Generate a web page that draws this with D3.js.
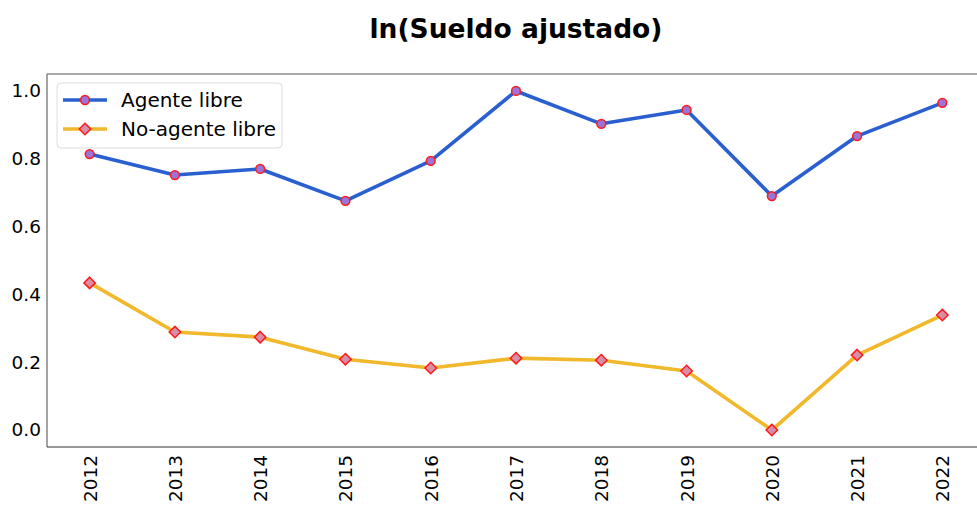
<!DOCTYPE html>
<html>
<head>
<meta charset="utf-8">
<script src="https://cdn.jsdelivr.net/npm/d3@7"></script>
<style>
  html, body { margin: 0; padding: 0; background: #fff; }
  svg { display: block; font-family: "DejaVu Sans", sans-serif; }
</style>
</head>
<body>
<svg id="chart" width="977" height="507"></svg>
<script>
// Years on the x axis
const years = ["2012", "2013", "2014", "2015", "2016", "2017", "2018", "2019", "2020", "2021", "2022"];
// Normalised ln(adjusted salary) per group
const agenteLibre = [0.814, 0.752, 0.770, 0.676, 0.794, 1.000, 0.903, 0.944, 0.690, 0.867, 0.965];
const noAgenteLibre = [0.434, 0.289, 0.274, 0.209, 0.183, 0.212, 0.206, 0.174, 0.000, 0.221, 0.339];
const yTicks = [0.0, 0.2, 0.4, 0.6, 0.8, 1.0];
const seriesNames = ["Agente libre", "No-agente libre"];

const svg = d3.select("#chart");
const margin = { left: 47, right: 985, top: 74, bottom: 447 };

const x = d3.scalePoint()
  .domain(years)
  .range([margin.left, margin.right])
  .padding(0.5);

const y = d3.scaleLinear()
  .domain([-0.05, 1.05])
  .range([margin.bottom, margin.top]);

// Title
svg.append("text")
  .attr("x", (margin.left + margin.right) / 2)
  .attr("y", 38)
  .attr("text-anchor", "middle")
  .attr("font-size", 26.5)
  .attr("font-weight", "bold")
  .attr("fill", "#000")
  .text("ln(Sueldo ajustado)");

// Axes (no tick marks, labels only)
const yAxis = d3.axisLeft(y).tickValues(yTicks).tickFormat(d3.format(".1f")).tickSize(0).tickPadding(6);
const gy = svg.append("g").attr("transform", `translate(${margin.left},0)`).call(yAxis);
gy.select(".domain").remove();
gy.selectAll("text").attr("font-size", 18.5).attr("fill", "#000").attr("font-family", "DejaVu Sans, sans-serif");

const xAxis = d3.axisBottom(x).tickSize(0).tickPadding(8);
const gx = svg.append("g").attr("transform", `translate(0,${margin.bottom})`).call(xAxis);
gx.select(".domain").remove();
gx.selectAll("text")
  .attr("font-size", 18.5)
  .attr("fill", "#000")
  .attr("font-family", "DejaVu Sans, sans-serif")
  .attr("text-anchor", "end")
  .attr("dy", null)
  .attr("y", 0)
  .attr("transform", "translate(0,8) rotate(-90)")
  .attr("x", 0)
  .attr("dominant-baseline", "central");

// Frame
svg.append("line").attr("x1", margin.left).attr("x2", margin.right).attr("y1", margin.top).attr("y2", margin.top)
  .attr("stroke", "#555").attr("stroke-width", 1.2);
svg.append("line").attr("x1", margin.left).attr("x2", margin.left).attr("y1", margin.top).attr("y2", margin.bottom)
  .attr("stroke", "#666").attr("stroke-width", 1.2);
svg.append("line").attr("x1", margin.left).attr("x2", margin.right).attr("y1", margin.bottom).attr("y2", margin.bottom)
  .attr("stroke", "#333").attr("stroke-width", 1.2);

const line = d3.line().x((d, i) => x(years[i])).y(d => y(d));

const blue = "#2a5fd0";
const gold = "#f0b82a";
const circleFill = "#9a74d8";
const diamondFill = "#d68ea8";
const markerStroke = "#ff1a1a";

function diamond(g, cx, cy, r) {
  g.append("path")
    .attr("d", `M${cx},${cy - r}L${cx + r},${cy}L${cx},${cy + r}L${cx - r},${cy}Z`)
    .attr("fill", diamondFill)
    .attr("stroke", markerStroke)
    .attr("stroke-width", 1.5);
}
function circle(g, cx, cy, r) {
  g.append("circle")
    .attr("cx", cx).attr("cy", cy).attr("r", r)
    .attr("fill", circleFill)
    .attr("stroke", markerStroke)
    .attr("stroke-width", 1.5);
}

// Series lines
svg.append("path").datum(agenteLibre).attr("d", line)
  .attr("fill", "none").attr("stroke", blue).attr("stroke-width", 3.6).attr("stroke-linejoin", "round");
svg.append("path").datum(noAgenteLibre).attr("d", line)
  .attr("fill", "none").attr("stroke", gold).attr("stroke-width", 3.6).attr("stroke-linejoin", "round");

// Markers
const mg = svg.append("g");
agenteLibre.forEach((v, i) => circle(mg, x(years[i]), y(v), 4.4));
noAgenteLibre.forEach((v, i) => diamond(mg, x(years[i]), y(v), 5.7));

// Legend
const lg = svg.append("g");
lg.append("rect").attr("x", 57).attr("y", 83).attr("width", 225).attr("height", 65).attr("rx", 4)
  .attr("fill", "#fff").attr("fill-opacity", 0.8).attr("stroke", "#dcdcdc").attr("stroke-width", 1);
const rows = [
  { name: seriesNames[0], color: blue, marker: circle, r: 4.4, yy: 100 },
  { name: seriesNames[1], color: gold, marker: diamond, r: 5.7, yy: 129 }
];
rows.forEach(rw => {
  lg.append("line").attr("x1", 63).attr("x2", 107).attr("y1", rw.yy).attr("y2", rw.yy)
    .attr("stroke", rw.color).attr("stroke-width", 3.6);
  rw.marker(lg, 85, rw.yy, rw.r);
  lg.append("text").attr("x", 121).attr("y", rw.yy).attr("dominant-baseline", "central")
    .attr("font-size", 20).attr("fill", "#000").text(rw.name);
});
</script>
</body>
</html>
